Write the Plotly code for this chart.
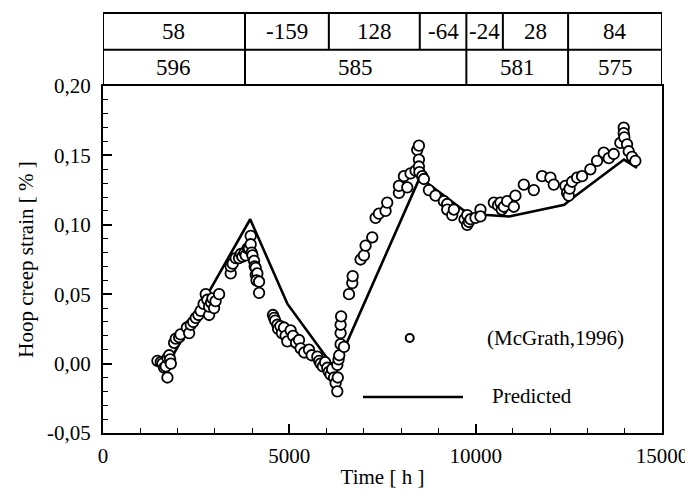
import plotly.graph_objects as go

# ---------------- data ----------------
obs_time = [1461, 1550, 1595, 1640, 1684, 1729, 1730, 1775, 1801, 1820, 1908, 1952, 2043, 2080,
            2250, 2311, 2355, 2420, 2489, 2560, 2620, 2700, 2757, 2800, 2847, 2847, 2900, 2936,
            2981, 3020, 3115, 3427, 3427, 3480, 3561, 3650, 3700, 3740, 3800, 3829, 3880, 3918,
            3963, 3963, 3990, 4010, 4054, 4070, 4097, 4100, 4142, 4120, 4188, 4188,
            4560, 4590, 4620, 4678, 4700, 4760, 4800, 4857, 4900, 4946, 5035, 5100, 5180, 5260,
            5303, 5400, 5528, 5600, 5751, 5800, 5839, 5900, 5960, 6019, 6060, 6108, 6150, 6200,
            6242, 6287, 6287, 6300, 6320, 6340, 6376, 6376, 6376, 6390, 6466,
            6600, 6689, 6700, 6912, 7002, 7046, 7225, 7315, 7404, 7582, 7627, 7941, 7941, 8075,
            8164, 8253, 8387, 8432, 8477, 8477, 8477, 8490, 8566, 8611, 8745, 8923, 9147, 9236,
            9236, 9370, 9415, 9700, 9772, 9772, 9820, 9861, 9995, 10129, 10129, 10488, 10600,
            10665, 10700, 10756, 10845, 11067, 11024, 11292, 11560, 11783, 12005, 12095, 12408,
            12453, 12498, 12520, 12587, 12721, 12855, 13078, 13257, 13437, 13571, 13705, 13882,
            13973, 13973, 13990, 14062, 14107, 14196, 14285]
obs_strain = [0.002, 0.001, 0.000, -0.003, -0.002, -0.010, 0.004, 0.006, 0.003, 0.000, 0.015,
              0.018, 0.019, 0.021, 0.026, 0.022, 0.028, 0.030, 0.033, 0.035, 0.038, 0.043, 0.050,
              0.046, 0.035, 0.041, 0.044, 0.047, 0.040, 0.045, 0.050, 0.065, 0.070, 0.072, 0.076,
              0.076, 0.079, 0.077, 0.080, 0.078, 0.083, 0.083, 0.092, 0.086, 0.080, 0.078, 0.074,
              0.070, 0.069, 0.064, 0.065, 0.060, 0.059, 0.051,
              0.035, 0.033, 0.031, 0.028, 0.025, 0.027, 0.022, 0.026, 0.020, 0.016, 0.024, 0.020,
              0.015, 0.017, 0.011, 0.008, 0.010, 0.006, 0.005, 0.002, 0.000, -0.002, 0.001, -0.003,
              -0.006, -0.008, -0.004, -0.010, -0.014, -0.020, -0.001, -0.010, 0.003, 0.006, 0.014,
              0.022, 0.028, 0.034, 0.012,
              0.050, 0.058, 0.063, 0.075, 0.078, 0.085, 0.091, 0.105, 0.108, 0.110, 0.116, 0.123,
              0.128, 0.135, 0.127, 0.137, 0.139, 0.154, 0.157, 0.147, 0.142, 0.138, 0.135, 0.133,
              0.125, 0.121, 0.117, 0.115, 0.111, 0.107, 0.111, 0.104, 0.107, 0.100, 0.102, 0.104,
              0.105, 0.111, 0.106, 0.116, 0.114, 0.116, 0.111, 0.113, 0.117, 0.121, 0.113, 0.129,
              0.125, 0.135, 0.134, 0.129, 0.128, 0.123, 0.121, 0.126, 0.131, 0.134, 0.135, 0.140,
              0.146, 0.152, 0.148, 0.151, 0.159, 0.170, 0.166, 0.163, 0.158, 0.153, 0.149, 0.146]

pred_time = [1750, 3950, 4950, 6230, 8500, 9800, 10900, 12380, 12540, 13980, 14330]
pred_strain = [0.000, 0.104, 0.043, -0.004, 0.134, 0.108, 0.106, 0.1145, 0.118, 0.147, 0.141]

# header table (segment boundaries in hours and their labels)
row1_bounds = [0, 3810, 6060, 8500, 9750, 10730, 12480, 15000]
row1_labels = ["58", "-159", "128", "-64", "-24", "28", "84"]
row2_bounds = [0, 3810, 9750, 12480, 15000]
row2_labels = ["596", "585", "581", "575"]

x_tickvals = [0, 5000, 10000, 15000]
x_ticktext = ["0", "5000", "10000", "15000"]
y_tickvals = [-0.05, 0.00, 0.05, 0.10, 0.15, 0.20]
y_ticktext = ["-0,05", "0,00", "0,05", "0,10", "0,15", "0,20"]

# ---------------- figure ----------------
FONT = "Liberation Serif"
fig = go.Figure()

fig.add_trace(go.Scatter(
    x=pred_time, y=pred_strain, mode="lines",
    line=dict(color="black", width=2.6), name="Predicted", showlegend=False))

fig.add_trace(go.Scatter(
    x=obs_time, y=obs_strain, mode="markers",
    marker=dict(symbol="circle", size=10.5, color="white",
                line=dict(color="black", width=1.8)),
    name="(McGrath,1996)", showlegend=False))

shapes = []
annotations = []
T_TOP, T_MID, T_BOT = 1.2104, 1.1046, 1.0
LW = 2
for yy in (T_TOP, T_MID):
    shapes.append(dict(type="line", xref="x", yref="paper", x0=row1_bounds[0], x1=row1_bounds[-1],
                       y0=yy, y1=yy, line=dict(color="black", width=LW)))
for b in row1_bounds:
    shapes.append(dict(type="line", xref="x", yref="paper", x0=b, x1=b, y0=T_MID, y1=T_TOP,
                       line=dict(color="black", width=LW)))
for i, lab in enumerate(row1_labels):
    annotations.append(dict(x=(row1_bounds[i] + row1_bounds[i + 1]) / 2, y=(T_TOP + T_MID) / 2,
                            xref="x", yref="paper", text=lab, showarrow=False,
                            font=dict(family=FONT, size=23, color="black"),
                            xanchor="center", yanchor="middle"))
for b in row2_bounds:
    shapes.append(dict(type="line", xref="x", yref="paper", x0=b, x1=b, y0=T_BOT, y1=T_MID,
                       line=dict(color="black", width=LW)))
for i, lab in enumerate(row2_labels):
    annotations.append(dict(x=(row2_bounds[i] + row2_bounds[i + 1]) / 2, y=(T_MID + T_BOT) / 2,
                            xref="x", yref="paper", text=lab, showarrow=False,
                            font=dict(family=FONT, size=23, color="black"),
                            xanchor="center", yanchor="middle"))

# manual legend
shapes.append(dict(type="circle", xref="paper", yref="paper",
                   x0=0.5487 - 0.0072, x1=0.5487 + 0.0072, y0=0.2738 - 0.0115, y1=0.2738 + 0.0115,
                   line=dict(color="black", width=2), fillcolor="white"))
shapes.append(dict(type="line", xref="paper", yref="paper", x0=0.4651, x1=0.6440,
                   y0=0.1037, y1=0.1037, line=dict(color="black", width=2.6)))
annotations.append(dict(x=0.6828, y=0.2738, xref="paper", yref="paper", text="(McGrath,1996)",
                        showarrow=False, xanchor="left", yanchor="middle",
                        font=dict(family=FONT, size=21, color="black")))
annotations.append(dict(x=0.6918, y=0.1066, xref="paper", yref="paper", text="Predicted",
                        showarrow=False, xanchor="left", yanchor="middle",
                        font=dict(family=FONT, size=21, color="black")))

fig.update_layout(
    width=693, height=495,
    margin=dict(l=95, r=39, t=78, b=70),
    paper_bgcolor="white", plot_bgcolor="white",
    font=dict(family=FONT, size=21, color="black"),
    shapes=shapes, annotations=annotations,
    showlegend=False,
)
fig.update_xaxes(
    range=[0, 15000], tickmode="array", tickvals=x_tickvals, ticktext=x_ticktext,
    ticks="inside", ticklen=9, tickwidth=1.5, tickcolor="black", ticklabelstandoff=3,
    minor=dict(tickmode="linear", tick0=0, dtick=1000, ticks="inside", ticklen=5,
               tickwidth=1.2, tickcolor="black", showgrid=False),
    showline=True, linewidth=2, linecolor="black", mirror=True,
    showgrid=False, zeroline=False,
    tickfont=dict(family=FONT, size=21),
    title=dict(text="Time [ h ]", font=dict(family=FONT, size=21), standoff=2),
)
fig.update_yaxes(
    range=[-0.05, 0.20], tickmode="array", tickvals=y_tickvals, ticktext=y_ticktext,
    ticks="inside", ticklen=9, tickwidth=1.5, tickcolor="black", ticklabelstandoff=6,
    minor=dict(tickmode="linear", tick0=0, dtick=0.01, ticks="inside", ticklen=5,
               tickwidth=1.2, tickcolor="black", showgrid=False),
    showline=True, linewidth=2, linecolor="black", mirror=True,
    showgrid=False, zeroline=False,
    tickfont=dict(family=FONT, size=21),
    title=dict(text="Hoop creep strain [ % ]", font=dict(family=FONT, size=21), standoff=8),
)

fig.write_html("out.html")
